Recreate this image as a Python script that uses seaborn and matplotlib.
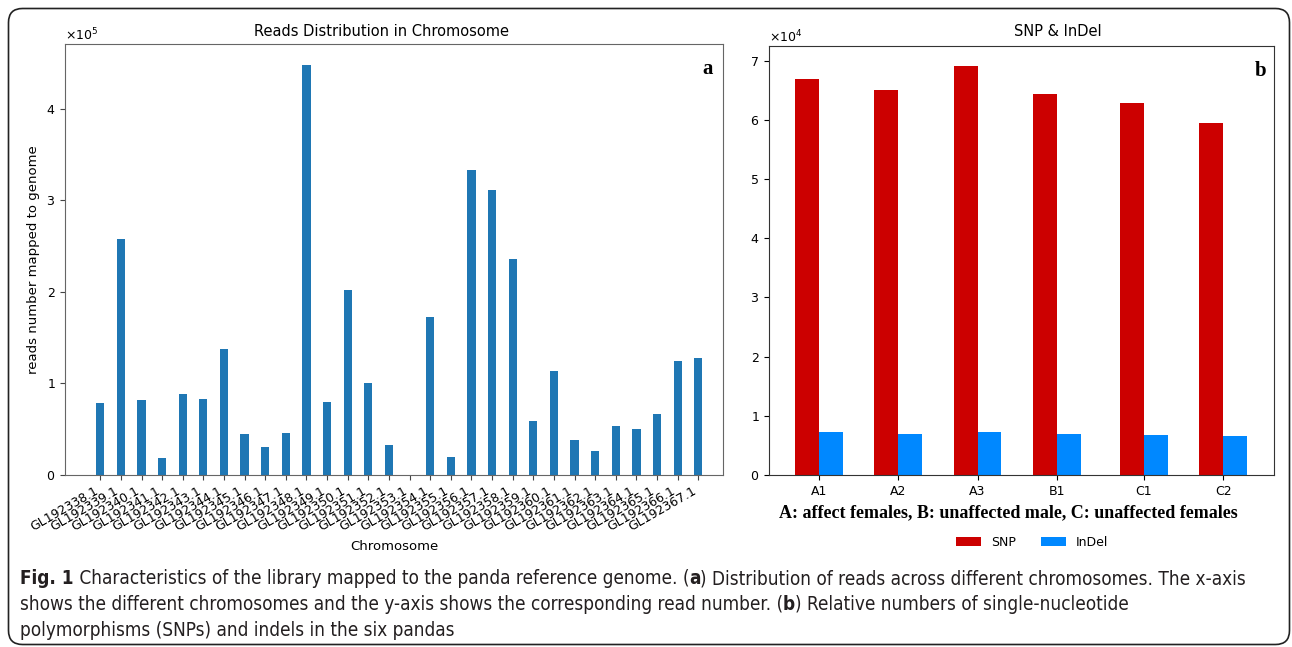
import matplotlib
matplotlib.use("Agg")
import matplotlib.pyplot as plt
import seaborn as sns
import pandas as pd
from matplotlib import font_manager
from matplotlib.patches import FancyBboxPatch

# ---------------- data ----------------
chromosomes = ["GL192338.1", "GL192339.1", "GL192340.1", "GL192341.1", "GL192342.1",
               "GL192343.1", "GL192344.1", "GL192345.1", "GL192346.1", "GL192347.1",
               "GL192348.1", "GL192349.1", "GL192350.1", "GL192351.1", "GL192352.1",
               "GL192353.1", "GL192354.1", "GL192355.1", "GL192356.1", "GL192357.1",
               "GL192358.1", "GL192359.1", "GL192360.1", "GL192361.1", "GL192362.1",
               "GL192363.1", "GL192364.1", "GL192365.1", "GL192366.1", "GL192367.1"]
reads = [79000, 257500, 81800, 18500, 88400, 82900, 137800, 44400, 30900, 45500,
         448000, 79600, 201800, 100700, 33100, 0, 172000, 20000, 332400, 310900,
         236000, 58500, 113500, 38500, 26500, 53800, 50200, 66900, 124000, 128000]

samples = ["A1", "A2", "A3", "B1", "C1", "C2"]
sample_pos = [0, 1, 2, 3, 4.1, 5.1]
snp = [66850, 64990, 69040, 64370, 62900, 59530]
indel = [7210, 6870, 7260, 6930, 6810, 6530]

W, H = 1292, 647
fig = plt.figure(figsize=(W / 100, H / 100), dpi=100)
plt.rcParams["font.family"] = ["DejaVu Sans"]

fonts = font_manager.fontManager.ttflist
names = {f.name for f in fonts}
if "Liberation Sans Narrow" in names:
    cap_family, cap_stretch = "Liberation Sans Narrow", "normal"
else:
    cap_family = "DejaVu Sans"
    has_cond = any(f.name == "DejaVu Sans" and f.stretch == "condensed" for f in fonts)
    cap_stretch = "condensed" if has_cond else "normal"
serif_family = "Liberation Serif" if "Liberation Serif" in names else "DejaVu Serif"

def fx(px):
    return px / W

def fy(py):
    return 1 - py / H

# ---------------- left panel ----------------
ax1 = fig.add_axes([fx(65), fy(475), (723 - 65) / W, (475 - 44) / H])
df1 = pd.DataFrame({"chrom": chromosomes, "reads": reads})
sns.barplot(data=df1, x="chrom", y="reads", color="#1f77b4", saturation=1,
            width=0.4, errorbar=None, ax=ax1, linewidth=0)
ax1.set_xlim(-1.71, 30.2)
ax1.set_ylim(0, max(reads) * 1.05)
ax1.set_xticks(range(len(chromosomes)))
ax1.set_xticklabels(chromosomes, rotation=30, ha="right", fontsize=9)
ax1.ticklabel_format(axis="y", style="sci", scilimits=(0, 0), useMathText=True)
ax1.yaxis.get_offset_text().set_fontsize(9)
ax1.tick_params(axis="y", labelsize=9)
ax1.set_xlabel("Chromosome", fontsize=9.5)
ax1.set_ylabel("reads number mapped to genome", fontsize=9.5)
for s in ax1.spines.values():
    s.set_color("#666666")
ax1.tick_params(color="#444444")
ax1.text(0.985, 0.965, "a", transform=ax1.transAxes, ha="right", va="top",
         fontsize=15, fontweight="bold", family=serif_family)
fig.text(fx(381), fy(31), "Reads Distribution in Chromosome", ha="center",
         va="center", fontsize=10.5)

# ---------------- right panel ----------------
ax2 = fig.add_axes([fx(769), fy(475), (1274 - 769) / W, (475 - 46) / H])
df2 = pd.DataFrame({
    "pos": sample_pos + sample_pos,
    "value": snp + indel,
    "type": ["SNP"] * len(samples) + ["InDel"] * len(samples),
})
sns.barplot(data=df2, x="pos", y="value", hue="type", native_scale=True,
            width=0.6, dodge=True, errorbar=None, saturation=1,
            palette={"SNP": "#cc0000", "InDel": "#0088ff"}, ax=ax2, linewidth=0)
ax2.set_xlim(-0.63, 5.74)
ax2.set_ylim(0, max(snp) * 1.05)
ax2.set_xticks(sample_pos)
ax2.set_xticklabels(samples, fontsize=9)
ax2.ticklabel_format(axis="y", style="sci", scilimits=(0, 0), useMathText=True)
ax2.yaxis.get_offset_text().set_fontsize(9)
ax2.tick_params(axis="y", labelsize=9)
ax2.set_ylabel("")
ax2.set_xlabel("")
for s in ax2.spines.values():
    s.set_color("#333333")
handles, labels = ax2.get_legend_handles_labels()
if ax2.get_legend() is not None:
    ax2.get_legend().remove()
fig.legend(handles, labels, loc="center", bbox_to_anchor=(fx(1032), fy(542)),
           ncol=2, frameon=False, fontsize=9)
ax2.text(0.985, 0.965, "b", transform=ax2.transAxes, ha="right", va="top",
         fontsize=15, fontweight="bold", family=serif_family)
fig.text(fx(1058), fy(31), "SNP & InDel", ha="center", va="center", fontsize=10.5)
fig.text(fx(1008), fy(513), "A: affect females, B: unaffected male, C: unaffected females",
         ha="center", va="center", fontsize=13, fontweight="bold", family=serif_family)

# ---------------- frame ----------------
frame = FancyBboxPatch((8.5, 2.5), 1281, 636, boxstyle="round,pad=0,rounding_size=14",
                       transform=None, fill=False, edgecolor="#222222", linewidth=1.2)
fig.patches.append(frame)

# ---------------- caption ----------------
lines = [
    (577, [("Fig. 1", "bold"),
           (" Characteristics of the library mapped to the panda reference genome. (", "normal"),
           ("a", "bold"),
           (") Distribution of reads across different chromosomes. The x-axis", "normal")]),
    (603, [("shows the different chromosomes and the y-axis shows the corresponding read number. (", "normal"),
           ("b", "bold"),
           (") Relative numbers of single-nucleotide", "normal")]),
    (629, [("polymorphisms (SNPs) and indels in the six pandas", "normal")]),
]
renderer = fig.canvas.get_renderer()

def line_width(runs, size):
    total = 0
    for s, w in runs:
        t = fig.text(0, 0, s, fontsize=size, fontweight=w, family=cap_family,
                     fontstretch=cap_stretch)
        total += t.get_window_extent(renderer).width
        t.remove()
    return total

base = 13
size = base * 1230 / line_width(lines[0][1], base)
for ypx, runs in lines:
    x = 20
    for s, w in runs:
        t = fig.text(fx(x), fy(ypx), s, fontsize=size, fontweight=w, family=cap_family,
                     fontstretch=cap_stretch, ha="left", va="center_baseline",
                     color="#231f20")
        x += t.get_window_extent(renderer).width

fig.savefig("out.png", dpi=100)
